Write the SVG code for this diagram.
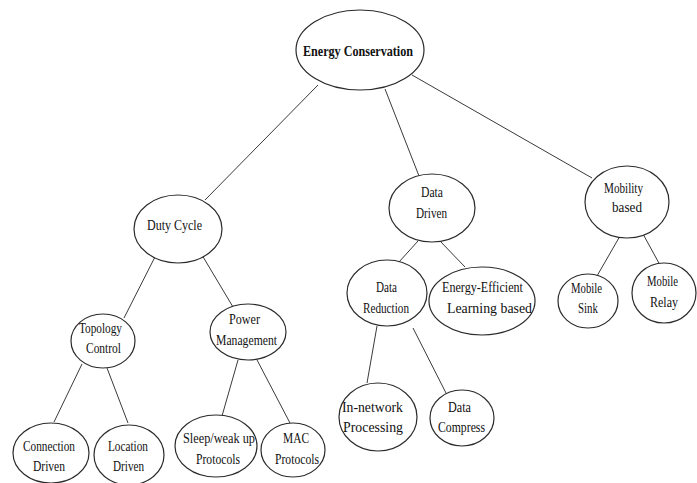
<svg xmlns="http://www.w3.org/2000/svg" width="697" height="483" viewBox="0 0 697 483">
<style>
.n{fill:#fff;stroke:#2b2b2b;stroke-width:1.2}
.c line{stroke:#3a3a3a;stroke-width:1}
text{font-family:"Liberation Serif","Times New Roman",serif;font-size:15px;fill:#111}
.b{font-weight:bold}
</style>
<rect width="697" height="483" fill="#fff"/>
<g id="connectors" class="c">
<line x1="318" y1="85" x2="205" y2="200"/>
<line x1="385" y1="89" x2="419" y2="176"/>
<line x1="412" y1="75" x2="592" y2="178"/>
<line x1="158" y1="251" x2="124" y2="318"/>
<line x1="199" y1="250" x2="233" y2="307"/>
<line x1="82" y1="364" x2="54" y2="422"/>
<line x1="107" y1="368" x2="128" y2="423"/>
<line x1="238" y1="360" x2="222" y2="416"/>
<line x1="256" y1="358" x2="290" y2="423"/>
<line x1="418" y1="241" x2="399" y2="262"/>
<line x1="440" y1="241" x2="465" y2="267"/>
<line x1="377" y1="326" x2="367" y2="383"/>
<line x1="413" y1="328" x2="447" y2="395"/>
<line x1="620" y1="236" x2="597" y2="276"/>
<line x1="643" y1="234" x2="660" y2="265"/>
</g>
<g id="energy-conservation"><ellipse class="n" cx="360" cy="50" rx="64" ry="40"/><text class="b" x="303" y="56" textLength="110" lengthAdjust="spacingAndGlyphs">Energy Conservation</text></g>
<g id="duty-cycle"><ellipse class="n" cx="178" cy="229" rx="44" ry="34"/><text x="147" y="230" textLength="55" lengthAdjust="spacingAndGlyphs">Duty  Cycle</text></g>
<g id="data-driven"><ellipse class="n" cx="432" cy="208" rx="43" ry="34"/><text x="421" y="197" textLength="22" lengthAdjust="spacingAndGlyphs">Data</text><text x="416" y="218" textLength="31" lengthAdjust="spacingAndGlyphs">Driven</text></g>
<g id="mobility-based"><ellipse class="n" cx="627" cy="202" rx="42" ry="36"/><text x="604" y="193" textLength="39" lengthAdjust="spacingAndGlyphs">Mobility</text><text x="612" y="212" textLength="30" lengthAdjust="spacingAndGlyphs">based</text></g>
<g id="topology-control"><ellipse class="n" cx="103" cy="341" rx="32" ry="27"/><text x="79" y="333" textLength="43" lengthAdjust="spacingAndGlyphs">Topology</text><text x="86" y="353" textLength="35" lengthAdjust="spacingAndGlyphs">Control</text></g>
<g id="power-management"><ellipse class="n" cx="248" cy="332" rx="38" ry="28"/><text x="229" y="324" textLength="31" lengthAdjust="spacingAndGlyphs">Power</text><text x="216" y="345" textLength="61" lengthAdjust="spacingAndGlyphs">Management</text></g>
<g id="connection-driven"><ellipse class="n" cx="51" cy="453" rx="38" ry="30"/><text x="23" y="451" textLength="52" lengthAdjust="spacingAndGlyphs">Connection</text><text x="33" y="471" textLength="32" lengthAdjust="spacingAndGlyphs">Driven</text></g>
<g id="location-driven"><ellipse class="n" cx="129" cy="455" rx="35" ry="30"/><text x="108" y="451" textLength="40" lengthAdjust="spacingAndGlyphs">Location</text><text x="113" y="471" textLength="31" lengthAdjust="spacingAndGlyphs">Driven</text></g>
<g id="sleep-weak-up-protocols"><ellipse class="n" cx="216" cy="446" rx="41" ry="31"/><text x="183" y="443" textLength="72" lengthAdjust="spacingAndGlyphs">Sleep/weak up</text><text x="196" y="464" textLength="44" lengthAdjust="spacingAndGlyphs">Protocols</text></g>
<g id="mac-protocols"><ellipse class="n" cx="293" cy="450" rx="32" ry="27"/><text x="283" y="443" textLength="26" lengthAdjust="spacingAndGlyphs">MAC</text><text x="275" y="464" textLength="44" lengthAdjust="spacingAndGlyphs">Protocols</text></g>
<g id="data-reduction"><ellipse class="n" cx="387" cy="293" rx="40" ry="33"/><text x="376" y="292" textLength="21" lengthAdjust="spacingAndGlyphs">Data</text><text x="363" y="313" textLength="46" lengthAdjust="spacingAndGlyphs">Reduction</text></g>
<g id="energy-efficient-learning-based"><ellipse class="n" cx="482" cy="301" rx="53" ry="34"/><text x="442" y="292" textLength="81" lengthAdjust="spacingAndGlyphs">Energy-Efficient</text><text x="447" y="313" textLength="85" lengthAdjust="spacingAndGlyphs">Learning  based</text></g>
<g id="in-network-processing"><ellipse class="n" cx="378" cy="417" rx="39" ry="34"/><text x="342" y="412" textLength="61" lengthAdjust="spacingAndGlyphs">In-network</text><text x="343" y="432" textLength="60" lengthAdjust="spacingAndGlyphs">Processing</text></g>
<g id="data-compress"><ellipse class="n" cx="462" cy="418" rx="32" ry="28"/><text x="448" y="412" textLength="23" lengthAdjust="spacingAndGlyphs">Data</text><text x="438" y="432" textLength="47" lengthAdjust="spacingAndGlyphs">Compress</text></g>
<g id="mobile-sink"><ellipse class="n" cx="588" cy="301" rx="30" ry="27"/><text x="571" y="293" textLength="31" lengthAdjust="spacingAndGlyphs">Mobile</text><text x="578" y="313" textLength="20" lengthAdjust="spacingAndGlyphs">Sink</text></g>
<g id="mobile-relay"><ellipse class="n" cx="664" cy="293" rx="32" ry="30"/><text x="647" y="286" textLength="31" lengthAdjust="spacingAndGlyphs">Mobile</text><text x="650" y="307" textLength="28" lengthAdjust="spacingAndGlyphs">Relay</text></g>
</svg>
